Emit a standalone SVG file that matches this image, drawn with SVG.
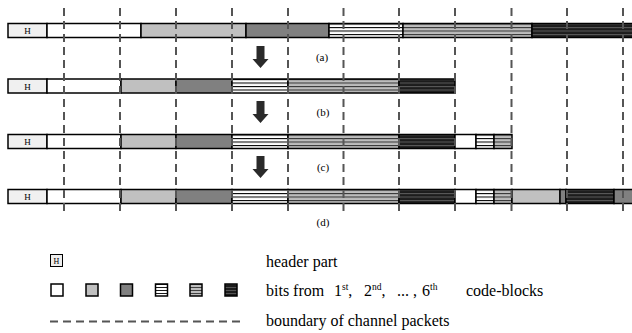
<svg xmlns="http://www.w3.org/2000/svg" width="632" height="333" viewBox="0 0 632 333">
  <style>
    .seg { stroke: #000; stroke-width: 1.5; }
    .hdr { fill: #f0f0f0; }
    .w { fill: #fff; }
    .lg { fill: #c0c0c0; }
    .dg { fill: #808080; }
    .sw { fill: url(#stripeWhite); }
    .sl { fill: url(#stripeLight); }
    .sd { fill: url(#stripeDark); }
    .bnd { stroke: #555; stroke-width: 2; stroke-dasharray: 8 5; fill: none; }
    .lbl { font-family: "Liberation Serif", "Times New Roman", serif; font-size: 11px; fill: #000; text-anchor: middle; }
    .htxt { font-family: "Liberation Serif", "Times New Roman", serif; font-size: 9px; fill: #000; text-anchor: middle; }
    .leg { font-family: "Liberation Serif", "Times New Roman", serif; font-size: 16px; fill: #000; }
    .sup { font-size: 9.5px; }
    .arrow { fill: #2a2a2a; }
  </style>
  <defs>
    <!-- striped fills: four bands separated by thin lines -->
    <pattern id="stripeWhite" patternUnits="objectBoundingBox" patternContentUnits="objectBoundingBox" width="1" height="0.25">
      <rect width="1" height="0.25" fill="#fff"/>
      <rect width="1" height="0.075" fill="#000"/>
    </pattern>
    <pattern id="stripeLight" patternUnits="objectBoundingBox" patternContentUnits="objectBoundingBox" width="1" height="0.25">
      <rect width="1" height="0.25" fill="#bdbdbd"/>
      <rect width="1" height="0.075" fill="#333"/>
    </pattern>
    <pattern id="stripeDark" patternUnits="objectBoundingBox" patternContentUnits="objectBoundingBox" width="1" height="0.25">
      <rect width="1" height="0.25" fill="#1c1c1c"/>
      <rect width="1" height="0.075" fill="#5a5a5a"/>
    </pattern>
  </defs>

  <!-- row (a) -->
  <g id="row-a" transform="translate(0,23.5)">
    <rect class="seg hdr" x="8" y="0" width="39" height="14"/>
    <text class="htxt" x="27.5" y="10.5">H</text>
    <rect class="seg w" x="47" y="0" width="94" height="14"/>
    <rect class="seg lg" x="141" y="0" width="105" height="14"/>
    <rect class="seg dg" x="246" y="0" width="83" height="14"/>
    <rect class="seg sw" x="329" y="0" width="74" height="14"/>
    <rect class="seg sl" x="403" y="0" width="129" height="14"/>
    <rect class="seg sd" x="532" y="0" width="102" height="14"/>
  </g>

  <!-- row (b) -->
  <g id="row-b" transform="translate(0,79)">
    <rect class="seg hdr" x="8" y="0" width="39" height="14"/>
    <text class="htxt" x="27.5" y="10.5">H</text>
    <rect class="seg w" x="47" y="0" width="74" height="14"/>
    <rect class="seg lg" x="121" y="0" width="55" height="14"/>
    <rect class="seg dg" x="176" y="0" width="56" height="14"/>
    <rect class="seg sw" x="232" y="0" width="56" height="14"/>
    <rect class="seg sl" x="288" y="0" width="111" height="14"/>
    <rect class="seg sd" x="399" y="0" width="56" height="14"/>
  </g>

  <!-- row (c) -->
  <g id="row-c" transform="translate(0,134.5)">
    <rect class="seg hdr" x="8" y="0" width="39" height="14"/>
    <text class="htxt" x="27.5" y="10.5">H</text>
    <rect class="seg w" x="47" y="0" width="74" height="14"/>
    <rect class="seg lg" x="121" y="0" width="55" height="14"/>
    <rect class="seg dg" x="176" y="0" width="56" height="14"/>
    <rect class="seg sw" x="232" y="0" width="56" height="14"/>
    <rect class="seg sl" x="288" y="0" width="111" height="14"/>
    <rect class="seg sd" x="399" y="0" width="56" height="14"/>
    <rect class="seg w" x="455" y="0" width="21" height="14"/>
    <rect class="seg sw" x="476" y="0" width="18" height="14"/>
    <rect class="seg sl" x="494" y="0" width="18" height="14"/>
  </g>

  <!-- row (d) -->
  <g id="row-d" transform="translate(0,189.5)">
    <rect class="seg hdr" x="8" y="0" width="39" height="14"/>
    <text class="htxt" x="27.5" y="10.5">H</text>
    <rect class="seg w" x="47" y="0" width="74" height="14"/>
    <rect class="seg lg" x="121" y="0" width="55" height="14"/>
    <rect class="seg dg" x="176" y="0" width="56" height="14"/>
    <rect class="seg sw" x="232" y="0" width="56" height="14"/>
    <rect class="seg sl" x="288" y="0" width="111" height="14"/>
    <rect class="seg sd" x="399" y="0" width="56" height="14"/>
    <rect class="seg w" x="455" y="0" width="21" height="14"/>
    <rect class="seg sw" x="476" y="0" width="18" height="14"/>
    <rect class="seg sl" x="494" y="0" width="18" height="14"/>
    <rect class="seg lg" x="512" y="0" width="48" height="14"/>
    <rect class="seg dg" x="560" y="0" width="6" height="14"/>
    <rect class="seg sd" x="566" y="0" width="48" height="14"/>
    <rect class="seg dg" x="614" y="0" width="20" height="14"/>
  </g>

  <!-- channel packet boundaries -->
  <g id="boundaries">
    <line class="bnd" x1="64" y1="8" x2="64" y2="211"/>
    <line class="bnd" x1="120" y1="8" x2="120" y2="211"/>
    <line class="bnd" x1="176" y1="8" x2="176" y2="211"/>
    <line class="bnd" x1="232" y1="8" x2="232" y2="211"/>
    <line class="bnd" x1="288" y1="8" x2="288" y2="211"/>
    <line class="bnd" x1="343.5" y1="8" x2="343.5" y2="211"/>
    <line class="bnd" x1="399" y1="8" x2="399" y2="211"/>
    <line class="bnd" x1="455" y1="8" x2="455" y2="211"/>
    <line class="bnd" x1="511.5" y1="8" x2="511.5" y2="211"/>
    <line class="bnd" x1="567" y1="8" x2="567" y2="211"/>
    <line class="bnd" x1="623" y1="8" x2="623" y2="211"/>
  </g>

  <!-- step arrows -->
  <g id="connectors">
    <path class="arrow" d="M256.5,46 H264.5 V59 H268.5 L260.5,68 L252.5,59 H256.5 Z"/>
    <path class="arrow" d="M256.5,101 H264.5 V114 H268.5 L260.5,123 L252.5,114 H256.5 Z"/>
    <path class="arrow" d="M256.5,156 H264.5 V169 H268.5 L260.5,178 L252.5,169 H256.5 Z"/>
  </g>

  <!-- row captions -->
  <g id="captions">
    <text class="lbl" x="322" y="61">(a)</text>
    <text class="lbl" x="323" y="116">(b)</text>
    <text class="lbl" x="323" y="171">(c)</text>
    <text class="lbl" x="323" y="226">(d)</text>
  </g>

  <!-- legend -->
  <g id="legend">
    <rect x="50.5" y="254.5" width="12" height="12" fill="#eee" stroke="#000" stroke-width="1"/>
    <text x="56.5" y="263.5" font-family="Liberation Serif, serif" font-size="8" text-anchor="middle">H</text>
    <rect class="w" x="51" y="284" width="12" height="12" stroke="#000" stroke-width="1.5"/>
    <rect class="lg" x="86" y="284" width="12" height="12" stroke="#000" stroke-width="1.5"/>
    <rect class="dg" x="120.5" y="284" width="12" height="12" stroke="#000" stroke-width="1.5"/>
    <rect class="sw" x="155.5" y="284" width="12" height="12" stroke="#000" stroke-width="1.5"/>
    <rect class="sl" x="190" y="284" width="12" height="12" stroke="#000" stroke-width="1.5"/>
    <rect class="sd" x="225" y="284" width="12" height="12" stroke="#000" stroke-width="1.5"/>
    <line class="bnd" x1="50" y1="321.5" x2="240" y2="321.5"/>
    <text class="leg" x="266" y="267">header part</text>
    <text class="leg" x="266" y="296">bits from<tspan x="334">1</tspan><tspan class="sup" dy="-6">st</tspan><tspan dy="6">,</tspan><tspan x="364">2</tspan><tspan class="sup" dy="-6">nd</tspan><tspan dy="6">,</tspan><tspan x="397">... ,</tspan><tspan x="422">6</tspan><tspan class="sup" dy="-6">th</tspan><tspan x="466" dy="6">code-blocks</tspan></text>
    <text class="leg" x="266" y="326">boundary of channel packets</text>
  </g>
</svg>
